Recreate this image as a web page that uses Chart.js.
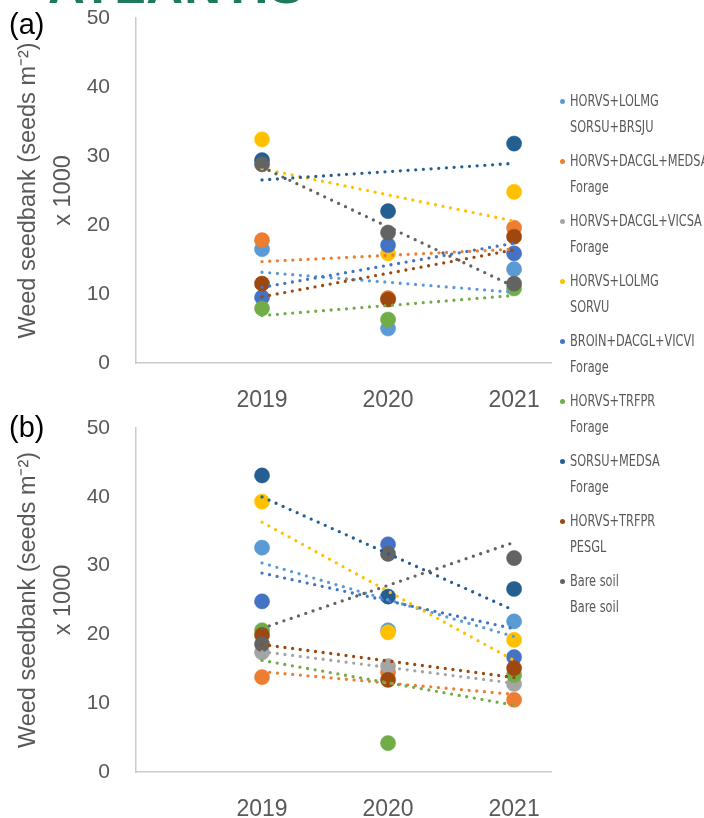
<!DOCTYPE html>
<html>
<head>
<meta charset="utf-8">
<script src="https://cdn.jsdelivr.net/npm/chart.js@4.4.1/dist/chart.umd.min.js"></script>
<style>
  body { margin: 0; background: #fff; }
  #page { position: relative; width: 704px; height: 818px; overflow: hidden; font-family: "Liberation Sans", Arial, sans-serif; }
  #logo { position: absolute; left: 48px; top: -40px; font-size: 51px; line-height: 1; font-weight: bold; color: #1f7a5c; letter-spacing: 1px; white-space: nowrap; }
  .panel { position: absolute; left: 0; }
  .tag { position: absolute; left: 9px; font-size: 29px; line-height: 1; color: #000; }
  #legend { position: absolute; left: 556px; top: 88px; width: 148px; color: #595959;
            font-family: "Liberation Sans Narrow", "DejaVu Sans Condensed", "Liberation Sans", sans-serif; font-size: 15px; }
  .item { position: relative; height: 60px; padding-left: 14px; white-space: nowrap; }
  .item .dot { position: absolute; left: 4px; top: 10.5px; width: 5px; height: 5px; border-radius: 50%; }
  .item div { height: 26px; line-height: 26px; transform: scaleX(0.84); transform-origin: 0 50%; }
</style>
</head>
<body>
<div id="page">
  <div id="logo">ATLANTIS</div>
  <div class="panel" style="top:0"><canvas id="chartA" width="560" height="415"></canvas></div>
  <div class="panel" style="top:415px"><canvas id="chartB" width="560" height="403"></canvas></div>
  <div class="tag" style="top:10px">(a)</div>
  <div class="tag" style="top:413px">(b)</div>
  <div id="legend"></div>
</div>
<script>
// années d'échantillonnage
const years = [2019, 2020, 2021];
const yTicks = [0, 10, 20, 30, 40, 50];

// traitements (ligne 1 / ligne 2 de la légende)
const seriesTop = ['HORVS+LOLMG', 'HORVS+DACGL+MEDSA', 'HORVS+DACGL+VICSA', 'HORVS+LOLMG',
  'BROIN+DACGL+VICVI', 'HORVS+TRFPR', 'SORSU+MEDSA', 'HORVS+TRFPR', 'Bare soil'];
const seriesBottom = ['SORSU+BRSJU', 'Forage', 'Forage', 'SORVU',
  'Forage', 'Forage', 'Forage', 'PESGL', 'Bare soil'];
const seriesColors = ['#5b9bd5', '#ed7d31', '#a5a5a5', '#ffc000',
  '#4472c4', '#70ad47', '#255e91', '#9e480e', '#636363'];

// (a) banque de semences, x 1000 graines m-2
const aSorsuBrsju = [16.5, 5.0, 13.6];
const aDacglMedsa = [17.8, 9.4, 19.6];
const aDacglVicsa = [null, null, null];
const aLolmgSorvu = [32.4, 15.9, 24.8];
const aBroinVicvi = [9.5, 17.1, 15.9];
const aTrfprForage = [7.9, 6.3, 10.8];
const aSorsuMedsa = [29.4, 22.0, 31.8];
const aTrfprPesgl = [11.5, 9.2, 18.3];
const aBareSoil = [28.8, 18.9, 11.5];

// (b)
const bSorsuBrsju = [32.6, 20.6, 21.9];
const bDacglMedsa = [13.8, 14.5, 10.5];
const bDacglVicsa = [17.4, 15.4, 12.8];
const bLolmgSorvu = [39.3, 20.3, 19.2];
const bBroinVicvi = [24.8, 33.1, 16.7];
const bTrfprForage = [20.6, 4.2, 14.1];
const bSorsuMedsa = [43.1, 25.5, 26.6];
const bTrfprPesgl = [19.9, 13.4, 15.1];
const bBareSoil = [18.6, 31.7, 31.1];

const panelA = [aSorsuBrsju, aDacglMedsa, aDacglVicsa, aLolmgSorvu, aBroinVicvi,
  aTrfprForage, aSorsuMedsa, aTrfprPesgl, aBareSoil];
const panelB = [bSorsuBrsju, bDacglMedsa, bDacglVicsa, bLolmgSorvu, bBroinVicvi,
  bTrfprForage, bSorsuMedsa, bTrfprPesgl, bBareSoil];

const FONT = '"Liberation Sans", Arial, sans-serif';
const GREY = '#595959';

// droite de tendance (moindres carrés), tracée de la première à la dernière année
function trendLine(vals) {
  const pts = years.map((x, i) => [x, vals[i]]).filter(p => p[1] != null);
  if (pts.length < 2) return [];
  const mx = pts.reduce((s, p) => s + p[0], 0) / pts.length;
  const my = pts.reduce((s, p) => s + p[1], 0) / pts.length;
  let num = 0, den = 0;
  pts.forEach(p => { num += (p[0] - mx) * (p[1] - my); den += (p[0] - mx) ** 2; });
  const b = num / den;
  const x0 = years[0], x1 = years[years.length - 1];
  return [{ x: x0, y: my + b * (x0 - mx) }, { x: x1, y: my + b * (x1 - mx) }];
}

function buildDatasets(panel) {
  const ds = [];
  panel.forEach((vals, i) => {
    const col = seriesColors[i];
    ds.push({
      label: seriesTop[i] + ' ' + seriesBottom[i],
      data: years.map((x, k) => ({ x: x, y: vals[k] })).filter(p => p.y != null),
      backgroundColor: col, borderColor: col, borderWidth: 0.5,
      pointRadius: 7.6, showLine: false, clip: false,
      order: 100 - i
    });
    ds.push({
      label: 'tendance ' + i,
      data: trendLine(vals),
      borderColor: col, borderWidth: 3.3, borderDash: [0, 7.7], borderCapStyle: 'round',
      pointRadius: 0, showLine: true, fill: false, clip: false,
      order: 50 - i
    });
  });
  return ds;
}

function makeChart(id, panel, padTop, plotBottom, canvasH) {
  return new Chart(document.getElementById(id), {
    type: 'scatter',
    data: { datasets: buildDatasets(panel) },
    options: {
      responsive: false,
      animation: false,
      events: [],
      layout: { padding: { top: padTop, left: 0, right: 7, bottom: 0 } },
      plugins: { legend: { display: false }, tooltip: { enabled: false } },
      scales: {
        x: {
          type: 'linear', min: 2018, max: 2021.3,
          afterFit: s => { s.height = canvasH - plotBottom; s.paddingLeft = 0; s.paddingRight = 0; },
          afterBuildTicks: s => { s.ticks = years.map(v => ({ value: v })); },
          grid: { display: false },
          border: { display: true, color: '#cccccc', width: 1.5 },
          ticks: { color: GREY, font: { size: 23, family: FONT }, padding: 16, callback: v => String(v) }
        },
        y: {
          min: 0, max: 50,
          afterFit: s => { s.width = 136; s.paddingTop = 0; s.paddingBottom = 0; },
          afterBuildTicks: s => { s.ticks = yTicks.map(v => ({ value: v })); },
          grid: { display: false },
          border: { display: true, color: '#cccccc', width: 1.5 },
          ticks: { color: GREY, font: { size: 21, family: FONT }, padding: 18 },
          title: {
            display: true,
            text: ['Weed seedbank (seeds m\u207B\u00B2)', 'x 1000'],
            color: GREY,
            font: { size: 23.5, family: FONT, lineHeight: 1.5 },
            padding: { top: 11, bottom: 0 }
          }
        }
      }
    }
  });
}

makeChart('chartA', panelA, 18, 363, 415);
makeChart('chartB', panelB, 13, 772 - 415, 403);

// légende commune aux deux graphiques
const legend = document.getElementById('legend');
seriesTop.forEach((t, i) => {
  const item = document.createElement('div');
  item.className = 'item';
  item.innerHTML = '<span class="dot" style="background:' + seriesColors[i] + '"></span>' +
    '<div>' + t + '</div><div>' + seriesBottom[i] + '</div>';
  legend.appendChild(item);
});
</script>
</body>
</html>
